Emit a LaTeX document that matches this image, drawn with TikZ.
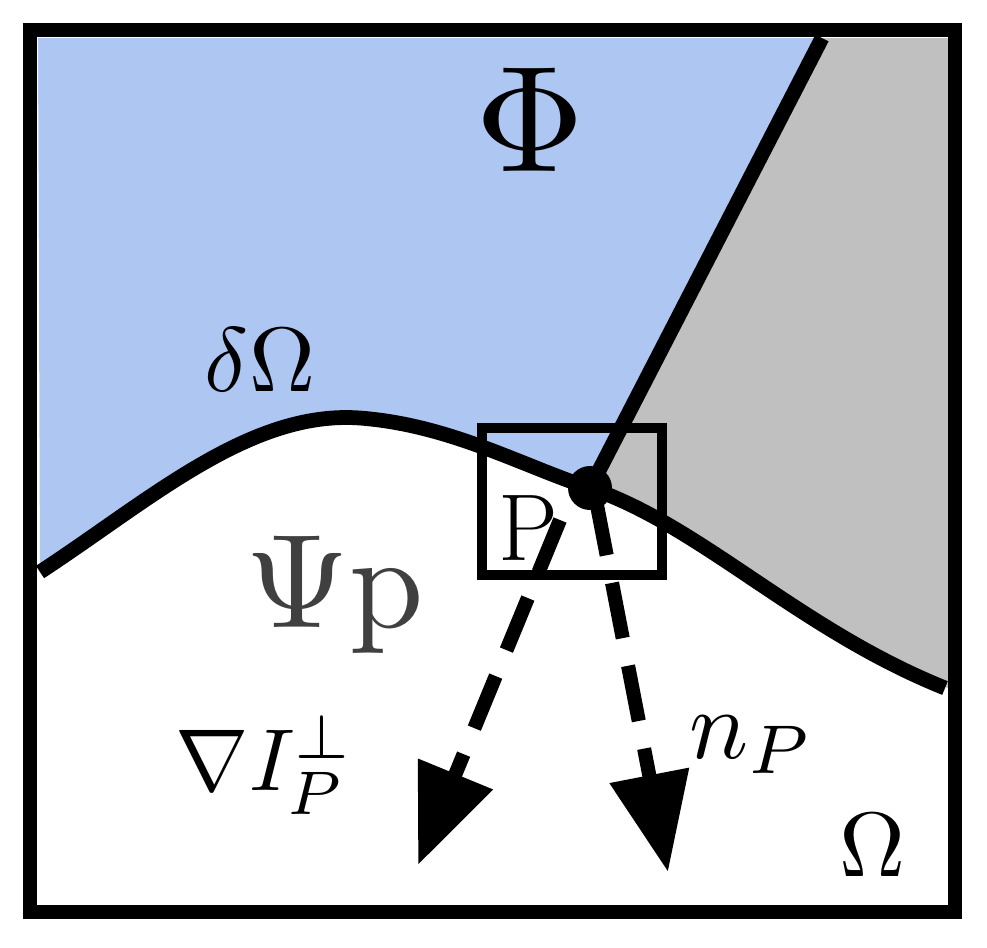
\documentclass[tikz,border=0pt]{standalone}
\usetikzlibrary{arrows.meta}
\definecolor{blu}{HTML}{AEC6F2}
\definecolor{gry}{HTML}{C0C0C0}
\begin{document}
\begin{tikzpicture}[x=0.01cm,y=-0.01cm,
  lab/.style={inner sep=0pt,anchor=center},
  darr/.style={dashed,line width=4pt,dash pattern=on 16pt off 8pt,-{Triangle[length=28pt,width=22pt]}}]
\useasboundingbox (0,0) rectangle (987,947);
\def\curveA{(40,572) .. controls (150,500) and (250,410) .. (360,418) .. controls (450,425) and (520,465) .. (590,488) .. controls (700,525) and (800,630) .. (945,688)}
\fill[blu] (38,38) -- (822,38) -- (590,488) .. controls (520,465) and (450,425) .. (360,418) .. controls (250,410) and (150,500) .. (40,572) -- cycle;
\fill[gry] (822,38) -- (948,38) -- (948,688) .. controls (800,630) and (700,525) .. (590,488) -- cycle;
\draw[line width=4.2pt] \curveA;
\draw[line width=4.2pt] (590,488) -- (822,38);
\coordinate (dot) at (590,488);
\fill (dot) circle (22);
\draw[line width=3pt] (482,428) rectangle (662,575);
\node[lab] (P) at (528,528) {\fontsize{27}{27}\selectfont P};
\coordinate (s1) at (560,520); \coordinate (e1) at (418,865);
\coordinate (s2) at (596,500); \coordinate (e2) at (668,872);
\draw[darr] (s1) -- (e1);
\draw[darr] (s2) -- (e2);
\draw[line width=4.2pt] (30,30) rectangle (955,912);
\node[lab,scale=4.3] (phi) at (530,120) {$\Phi$};
\node[lab,scale=2.6] (dom) at (260,360) {$\delta\Omega$};
\node[lab,text=black!75,scale=3.8] (psi) at (335,595) {$\Psi$p};
\node[lab,scale=2.6] (om) at (873,845) {$\Omega$};
\node[lab,scale=2.5] (grad) at (265,765) {$\nabla I_P^{\perp}$};
\node[lab,scale=2.8] (np) at (752,745) {$n_P$};
\end{tikzpicture}
\end{document}
